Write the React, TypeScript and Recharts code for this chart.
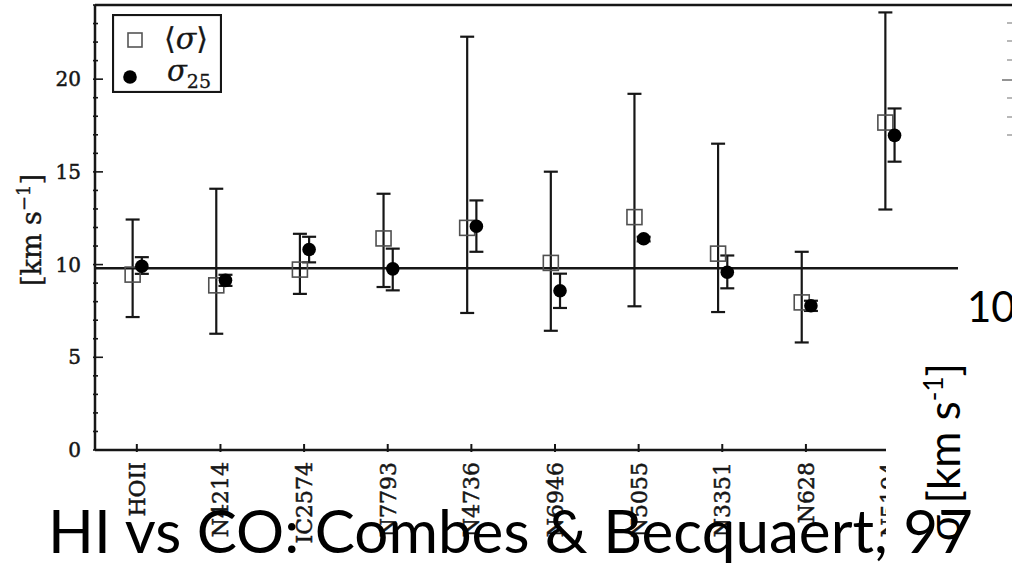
import { ScatterChart, Scatter, XAxis, YAxis, ErrorBar, ReferenceLine, Legend } from 'recharts';

const galaxies = ['HOII', 'N4214', 'IC2574', 'N7793', 'N4736', 'N6946', 'N5055', 'N3351', 'N628', 'N5194'];

// <sigma> with its range
const meanSigma = [9.46, 8.88, 9.73, 11.41, 11.98, 10.09, 12.56, 10.59, 7.96, 17.66];
const meanLow = [7.17, 6.27, 8.42, 8.79, 7.39, 6.43, 7.75, 7.44, 5.8, 12.97];
const meanHigh = [12.43, 14.09, 11.66, 13.82, 22.29, 15.01, 19.21, 16.52, 10.69, 23.6];

// sigma_25 with its range
const sigma25 = [9.91, 9.15, 10.81, 9.77, 12.07, 8.59, 11.39, 9.59, 7.78, 16.97];
const sigma25Low = [9.5, 8.85, 10.12, 8.61, 10.69, 7.66, 11.25, 8.72, 7.5, 15.55];
const sigma25High = [10.4, 9.45, 11.5, 10.86, 13.46, 9.51, 11.5, 10.49, 8.05, 18.42];

const meanLevel = 9.8;
const xTicks = [0, 1, 2, 3, 4, 5, 6, 7, 8, 9, 10];
const yTicks = [0, 1, 2, 3, 4, 5, 6, 7, 8, 9, 10, 11, 12, 13, 14, 15, 16, 17, 18, 19, 20, 21, 22, 23, 24];

const INK = '#161616';
const SERIF = '"DejaVu Serif", serif';
const SANS = 'Lato, "Open Sans", sans-serif';

const meanData = galaxies.map((g, i) => ({
  x: i - 0.05,
  y: meanSigma[i],
  err: [meanSigma[i] - meanLow[i], meanHigh[i] - meanSigma[i]],
}));
const s25Data = galaxies.map((g, i) => ({
  x: i + 0.06,
  y: sigma25[i],
  err: [sigma25[i] - sigma25Low[i], sigma25High[i] - sigma25[i]],
}));

function BottomTick({ x, y, payload }: any) {
  const name = galaxies[payload.value] ?? '';
  return (
    <g>
      <line x1={x} x2={x} y1={y} y2={y - 8} stroke={INK} strokeWidth={2} />
      <g transform={`translate(${x},${y + 10}) rotate(-90)`}>
        <text textAnchor="end" dy="0.36em" fontFamily={SERIF} fontSize={22} fill={INK} stroke={INK} strokeWidth={0.5}>
          {name}
        </text>
      </g>
    </g>
  );
}

function TopTick({ x, y }: any) {
  return <line x1={x} x2={x} y1={y} y2={y + 8} stroke={INK} strokeWidth={1.8} />;
}

function LeftTick({ x, y, payload }: any) {
  const major = payload.value % 5 === 0;
  return (
    <g>
      <line x1={x} x2={x + (major ? 10 : 5)} y1={y} y2={y} stroke={INK} strokeWidth={1.6} />
      {major && (
        <text x={x - 12} y={y} dy="0.36em" textAnchor="end" fontFamily={SERIF} fontSize={20} fill={INK} stroke={INK} strokeWidth={0.5}>
          {payload.value}
        </text>
      )}
    </g>
  );
}

function YLabel() {
  return (
    <text
      transform="translate(41,230) rotate(-90)"
      textAnchor="middle"
      fontFamily={SERIF}
      fontSize={27}
      fill={INK}
      stroke={INK}
      strokeWidth={0.4}
    >
      [km s
      <tspan dy={-11} fontSize={18}>−1</tspan>
      <tspan dy={11}>]</tspan>
    </text>
  );
}

function LegendBox() {
  return (
    <svg width={110} height={79} style={{ display: 'block' }}>
      <rect x={1} y={1} width={108} height={77} fill="#fff" stroke={INK} strokeWidth={2.2} />
      <rect x={16} y={19} width={14} height={14} fill="none" stroke="#555" strokeWidth={1.6} />
      <circle cx={18} cy={63} r={6.8} fill="#000" />
      <text x={52} y={35} fontFamily={SERIF} fontSize={30} fill={INK} stroke={INK} strokeWidth={0.3}>
        ⟨<tspan fontStyle="italic">σ</tspan>⟩
      </text>
      <text x={55} y={67} fontFamily={SERIF} fontSize={29} fontStyle="italic" fill={INK} stroke={INK} strokeWidth={0.3}>
        σ
        <tspan dy={7} fontSize={19} fontStyle="normal">25</tspan>
      </text>
    </svg>
  );
}

const squareShape = (p: any) => (
  <rect x={p.cx - 7.5} y={p.cy - 7.5} width={15} height={15} fill="none" stroke="#505050" strokeWidth={1.6} />
);
const dotShape = (p: any) => <circle cx={p.cx} cy={p.cy} r={6.8} fill="#000" />;

export default function App() {
  return (
    <div style={{ position: 'fixed', left: 0, top: 0, width: 1012, height: 563, overflow: 'hidden', background: '#fff' }}>
      <ScatterChart width={1030} height={563} margin={{ top: 4, right: 15, bottom: 0, left: 0 }}>
        <XAxis
          xAxisId="b"
          type="number"
          dataKey="x"
          domain={[-0.5, 10.5]}
          ticks={xTicks}
          interval={0}
          allowDataOverflow
          tickSize={0}
          tickLine={false}
          tick={<BottomTick />}
          height={113}
          axisLine={{ stroke: INK, strokeWidth: 2.5 }}
        />
        <XAxis
          xAxisId="t"
          orientation="top"
          type="number"
          domain={[-0.5, 10.5]}
          ticks={xTicks}
          interval={0}
          allowDataOverflow
          tickSize={0}
          tickLine={false}
          tick={<TopTick />}
          height={1}
          axisLine={{ stroke: INK, strokeWidth: 2.5 }}
        />
        <YAxis
          type="number"
          dataKey="y"
          domain={[0, 24]}
          ticks={yTicks}
          interval={0}
          tickSize={0}
          tickLine={false}
          tick={<LeftTick />}
          width={95}
          axisLine={{ stroke: INK, strokeWidth: 2.5 }}
          label={<YLabel />}
        />
        <ReferenceLine xAxisId="b" y={meanLevel} stroke={INK} strokeWidth={2.4} />
        <Scatter xAxisId="b" data={meanData} shape={squareShape} isAnimationActive={false}>
          <ErrorBar dataKey="err" direction="y" width={7} stroke={INK} strokeWidth={2.2} />
        </Scatter>
        <Scatter xAxisId="b" data={s25Data} shape={dotShape} isAnimationActive={false}>
          <ErrorBar dataKey="err" direction="y" width={7} stroke={INK} strokeWidth={2.2} />
        </Scatter>
        <Legend
          content={() => <LegendBox />}
          layout="horizontal"
          verticalAlign="middle"
          align="center"
          wrapperStyle={{ left: 112, top: 14, width: 110, height: 79 }}
        />
      </ScatterChart>
      <svg
        width={1012}
        height={563}
        style={{ position: 'absolute', left: 0, top: 0, pointerEvents: 'none' }}
      >
        <rect x={886} y={274} width={130} height={300} fill="#fff" />
        <rect x={958} y={17} width={60} height={560} fill="#fff" />
        {[23, 41, 60, 98, 117, 135].map((ty) => (
          <line key={ty} x1={1007} x2={1012} y1={ty} y2={ty} stroke="#888" strokeWidth={1.2} />
        ))}
        <line x1={1002} x2={1012} y1={80} y2={80} stroke="#666" strokeWidth={1.4} />
        <text x={967} y={322} fontFamily={SANS} fontSize={42} fill="#000">10</text>
        <text transform="translate(960,363) rotate(-90)" textAnchor="end" fontFamily={SANS} fontSize={44} fill="#000">
          σ [km s
          <tspan dy={-17} fontSize={26}>-1</tspan>
          <tspan dy={17}>]</tspan>
        </text>
        <text x={48} y={553} fontFamily={SANS} fontSize={60} fill="#000" textLength={925} lengthAdjust="spacingAndGlyphs">
          HI vs CO: Combes &amp; Becquaert, 97
        </text>
      </svg>
    </div>
  );
}
